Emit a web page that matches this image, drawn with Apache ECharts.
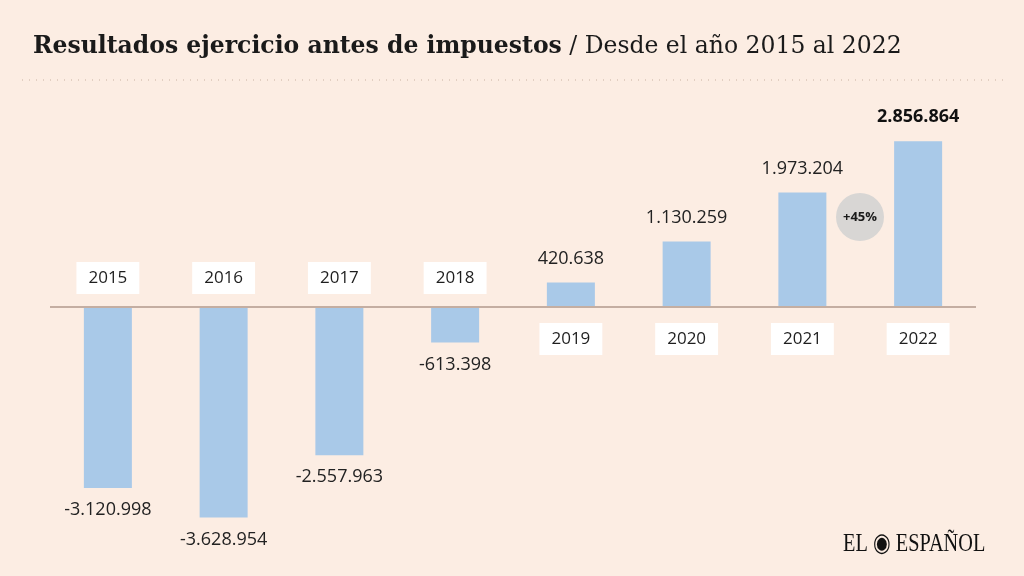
<!DOCTYPE html>
<html><head><meta charset="utf-8">
<script src="https://cdn.jsdelivr.net/npm/echarts@6/dist/echarts.min.js"></script>
<style>html,body{margin:0;padding:0;background:#fcede3;}#c{width:1024px;height:576px;}</style>
</head><body><div id="c"></div>
<script>
const years = ['2015','2016','2017','2018','2019','2020','2021','2022'];
const values = [-3120998, -3628954, -2557963, -613398, 420638, 1130259, 1973204, 2856864];
const valueLabels = ['-3.120.998','-3.628.954','-2.557.963','-613.398','420.638','1.130.259','1.973.204','2.856.864'];
const badgeText = '+45%';

const chart = echarts.init(document.getElementById('c'), null, {renderer:'canvas'});
const barData = values.map((v,i)=>({
  value: v,
  label: {
    show: true,
    position: v < 0 ? 'bottom' : 'top',
    distance: v < 0 ? 13 : 15,
    formatter: valueLabels[i],
    fontWeight: i === values.length-1 ? 'bold' : 'normal',
    color: i === values.length-1 ? '#111' : '#222'
  }
}));
const yearData = values.map((v,i)=>({
  value: [years[i], 0],
  label: {
    show: true,
    formatter: years[i],
    color: '#1e1e1e',
    offset: [0, v < 0 ? -29 : 32]
  }
}));
chart.setOption({
  backgroundColor: '#fcede3',
  animation: false,
  grid: {left: 50, right: 48, top: 104, bottom: 8},
  xAxis: {
    type: 'category', data: years,
    axisLine: {show: false}, axisTick: {show: false}, axisLabel: {show: false}
  },
  yAxis: {
    type: 'value', min: -4500000, max: 3500000,
    splitLine: {show: false}, axisLabel: {show: false}, axisLine: {show: false}, axisTick: {show: false}
  },
  series: [
    {
      type: 'bar', data: barData, barWidth: 48,
      itemStyle: {color: '#a9c9e8'},
      label: {fontFamily: 'Open Sans', fontSize: 18},
      markLine: {
        silent: true, symbol: 'none',
        lineStyle: {color: '#c4aea2', width: 2, type: 'solid'},
        label: {show: false},
        data: [{yAxis: 0}]
      },
      z: 2
    },
    {
      type: 'scatter', data: yearData, symbolSize: 0,
      itemStyle: {opacity: 1},
      label: {
        position: 'inside', fontFamily: 'Open Sans', fontSize: 17, color: '#1e1e1e',
        textBorderWidth: 0,
        backgroundColor: '#ffffff', padding: [8, 12, 7, 12]
      },
      z: 5
    }
  ],
  graphic: [
    {type: 'text', left: 33, top: 35, style: {
      rich: {
        b: {fontFamily: 'DejaVu Serif', fontWeight: 'bold', fontSize: 23.5, fill: '#1a1a1a'},
        n: {fontFamily: 'DejaVu Serif', fontSize: 23.5, fill: '#1a1a1a'}
      },
      text: '{b|Resultados ejercicio antes de impuestos}{n| / Desde el año 2015 al 2022}'
    }},
    {type: 'line', shape: {x1: 22, y1: 80, x2: 1004, y2: 80},
      style: {stroke: '#e2cfc2', lineWidth: 2, lineDash: [1, 6]}},
    {type: 'circle', shape: {cx: 860, cy: 217, r: 24}, style: {fill: '#d8d6d4'}, z: 10},
    {type: 'text', x: 860, y: 217, style: {text: badgeText, fontFamily: 'Open Sans', fontWeight: 'bold', fontSize: 13, fill: '#1a1a1a', align: 'center', verticalAlign: 'middle'}, z: 11},
    {type: 'text', x: 843, y: 531, scaleX: 0.78, style: {text: 'EL ◉ ESPAÑOL', fontFamily: 'Liberation Serif', fontSize: 26, fill: '#111'}}
  ]
});
</script></body></html>
